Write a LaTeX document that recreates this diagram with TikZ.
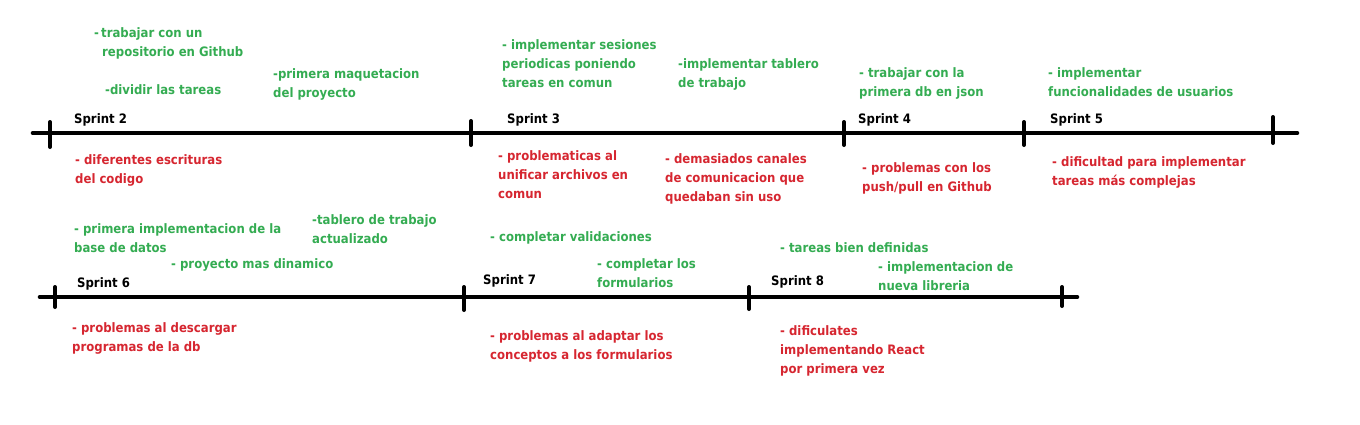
\documentclass[tikz,border=0pt]{standalone}
\usepackage{fontspec}
\setmainfont{DejaVu Sans Condensed}
\definecolor{good}{RGB}{52,172,82}
\definecolor{bad}{RGB}{214,38,48}
\tikzset{
  axis/.style={line width=4.6pt,line cap=round},
  tick/.style={line width=4pt,line cap=round},
  txt/.style={font=\fontsize{13}{19}\selectfont\bfseries,inner sep=0pt,align=left,anchor=base west},
  goodtxt/.style={txt,text=good},
  badtxt/.style={txt,text=bad},
  sprtxt/.style={txt,text=black},
}
\begin{document}
\begin{tikzpicture}[x=1pt,y=-1pt]
\useasboundingbox (0,0) rectangle (1360,424);
% timeline 1
\coordinate (a1) at (33,133); \coordinate (b1) at (1297,133);
\draw[axis] (a1) -- (b1);
\coordinate (t1a) at (50,122); \coordinate (t1b) at (50,147);
\coordinate (t2a) at (471,121); \coordinate (t2b) at (471,145);
\coordinate (t3a) at (844,122); \coordinate (t3b) at (844,145);
\coordinate (t4a) at (1024,122); \coordinate (t4b) at (1024,145);
\coordinate (t5a) at (1273,117); \coordinate (t5b) at (1273,143);
\foreach \t in {t1,t2,t3,t4,t5} \draw[tick] (\t a) -- (\t b);
% timeline 2
\coordinate (a2) at (40,297); \coordinate (b2) at (1077,297);
\draw[axis] (a2) -- (b2);
\coordinate (u1a) at (55,287); \coordinate (u1b) at (55,307);
\coordinate (u2a) at (464,287); \coordinate (u2b) at (464,310);
\coordinate (u3a) at (749,287); \coordinate (u3b) at (749,309);
\coordinate (u4a) at (1062,287); \coordinate (u4b) at (1062,306);
\foreach \t in {u1,u2,u3,u4} \draw[tick] (\t a) -- (\t b);
% sprint labels
\node[sprtxt] (s2) at (74,123) {Sprint 2};
\node[sprtxt] (s3) at (507,123) {Sprint 3};
\node[sprtxt] (s4) at (858,123) {Sprint 4};
\node[sprtxt] (s5) at (1050,123) {Sprint 5};
\node[sprtxt] (s6) at (77,287) {Sprint 6};
\node[sprtxt] (s7) at (483,284) {Sprint 7};
\node[sprtxt] (s8) at (771,285) {Sprint 8};
% sprint 2
\node[goodtxt] (p21) at (94,56) {-\,trabajar con un\\\hspace*{8pt}repositorio en Github};
\node[goodtxt] (p22) at (105,94) {-dividir las tareas};
\node[goodtxt] (p23) at (273,97) {-primera maquetacion\\del proyecto};
\node[badtxt] (n21) at (75,183) {- diferentes escrituras\\del codigo};
% sprint 3
\node[goodtxt] (p31) at (502,87) {- implementar sesiones\\periodicas poniendo\\tareas en comun};
\node[goodtxt] (p32) at (678,87) {-implementar tablero\\de trabajo};
\node[badtxt] (n31) at (498,198) {- problematicas al\\unificar archivos en\\comun};
\node[badtxt] (n32) at (665,201) {- demasiados canales\\de comunicacion que\\quedaban sin uso};
% sprint 4
\node[goodtxt] (p41) at (859,96) {- trabajar con la\\primera db en json};
\node[badtxt] (n41) at (862,191) {- problemas con los\\push/pull en Github};
% sprint 5
\node[goodtxt] (p51) at (1048,96) {- implementar\\funcionalidades de usuarios};
\node[badtxt] (n51) at (1052,185) {- dificultad para implementar\\tareas más complejas};
% sprint 6
\node[goodtxt] (p61) at (74,252) {- primera implementacion de la\\base de datos};
\node[goodtxt] (p62) at (312,243) {-tablero de trabajo\\actualizado};
\node[goodtxt] (p63) at (171,268) {- proyecto mas dinamico};
\node[badtxt] (n61) at (72,351) {- problemas al descargar\\programas de la db};
% sprint 7
\node[goodtxt] (p71) at (490,241) {- completar validaciones};
\node[goodtxt] (p72) at (597,287) {- completar los\\formularios};
\node[badtxt] (n71) at (490,359) {- problemas al adaptar los\\conceptos a los formularios};
% sprint 8
\node[goodtxt] (p81) at (780,252) {- tareas bien definidas};
\node[goodtxt] (p82) at (878,290) {- implementacion de\\nueva libreria};
\node[badtxt] (n81) at (780,373) {- dificulates\\implementando React\\por primera vez};
\end{tikzpicture}
\end{document}
